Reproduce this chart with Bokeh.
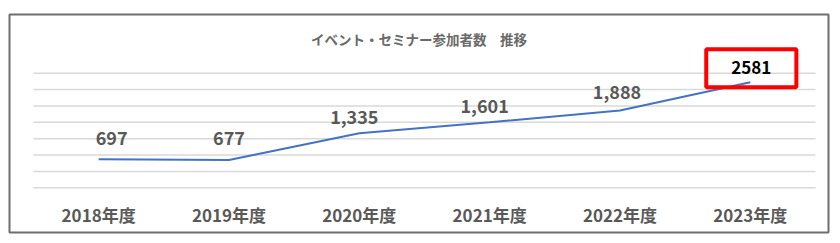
from bokeh.plotting import figure
from bokeh.models import ColumnDataSource, Range1d
from bokeh.core.properties import value
from bokeh.embed import file_html
from bokeh.resources import INLINE

# ---- data ----
title_text = "イベント・セミナー参加者数　推移"
categories = ["2018年度", "2019年度", "2020年度", "2021年度", "2022年度", "2023年度"]
participants = [697, 677, 1335, 1601, 1888, 2581]
grid_values = [0, 400, 800, 1200, 1600, 2000, 2400, 2800]

# ---- label placement styling (pixels) ----
label_dx = [13, 0, -5, -5, -3]
label_dy = [-21, -22, -16, -16, -19]

FONT = value("Noto Sans CJK JP")
GRAY = "#595959"

n = len(categories)
xs = [i + 0.5 for i in range(n)]

p = figure(
    width=840, height=243,
    output_backend="svg", toolbar_location=None,
    x_axis_type=None, y_axis_type=None,
    x_range=Range1d(-0.184, n + 0.1),
    y_range=Range1d(-1092, 4234),
    min_border_left=9, min_border_right=12, min_border_top=14, min_border_bottom=11,
    background_fill_color="white", border_fill_color="white",
)
p.xgrid.visible = False
p.ygrid.visible = False
p.outline_line_color = "#6E6E6E"
p.outline_line_width = 2

# gridlines spanning the category band
p.segment(x0=[0] * len(grid_values), x1=[n] * len(grid_values),
          y0=grid_values, y1=grid_values,
          line_color="#D9D9D9", line_width=1.5)

# series line
p.line(x=xs, y=participants, line_color="#4472C4", line_width=2)

# data labels (all but highlighted last one)
src = ColumnDataSource(dict(
    x=xs[:-1], y=participants[:-1],
    t=[f"{v:,}" for v in participants[:-1]],
    dx=label_dx, dy=label_dy,
))
p.text(x="x", y="y", text="t", x_offset="dx", y_offset="dy", source=src,
       text_font=FONT, text_font_style="bold", text_font_size="18px",
       text_color=GRAY, text_align="center", text_baseline="middle")

# highlighted last label with red box
p.text(x=[xs[-1]], y=[participants[-1]], text=[str(participants[-1])],
       x_offset=1, y_offset=-14,
       text_font=FONT, text_font_style="bold", text_font_size="17px",
       text_color="black", text_align="center", text_baseline="middle",
       border_line_color="#FF0000", border_line_width=4,
       padding=dict(left=25, right=25, top=12, bottom=13))

# category labels
p.text(x=xs, y=[0] * n, text=categories, y_offset=27,
       text_font=FONT, text_font_style="bold", text_font_size="17px",
       text_color=GRAY, text_align="center", text_baseline="middle")

# chart title
p.text(x=[(p.x_range.start + p.x_range.end) / 2], y=[p.y_range.end], text=[title_text],
       y_offset=24,
       text_font=FONT, text_font_size="13.5px", text_font_style="bold",
       text_color="#6A6A6A", text_align="center", text_baseline="middle")

open("out.html", "w").write(file_html(p, INLINE))
